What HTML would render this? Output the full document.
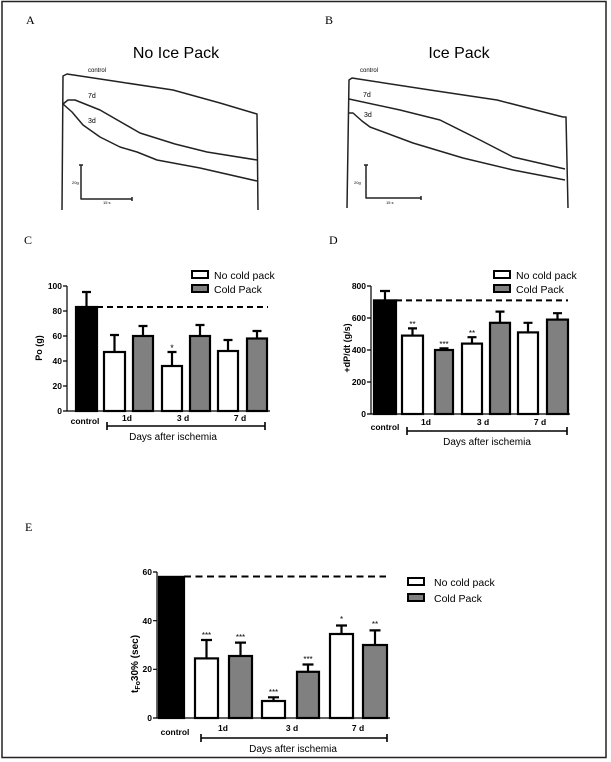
<!DOCTYPE html>
<html><head><meta charset="utf-8"><style>
html,body{margin:0;padding:0;background:#fff}
svg{display:block}
text{font-family:"Liberation Sans",sans-serif}
.ser{font-family:"Liberation Serif",serif;font-size:12px}
.tk{font-size:8.5px;font-weight:bold}
.lg{font-size:10.5px}
</style></head><body>
<svg width="611" height="762" viewBox="0 0 611 762" xmlns="http://www.w3.org/2000/svg">
<rect x="2" y="1.5" width="604" height="756" fill="#fff" stroke="#222" stroke-width="1.5"/>
<!-- A -->
<text class="ser" x="26" y="24">A</text>
<text x="176" y="58" font-size="16" text-anchor="middle">No Ice Pack</text>
<g fill="none" stroke="#222" stroke-width="1.5" stroke-linejoin="round">
<path d="M62 210 L63 76 L67 74 L120 82 L173 90 L220 103 L257 114 L258 210"/>
<path d="M63 104 L68 100 L75 100 L100 110 L140 133 L175 144 L207 152 L257 160"/>
<path d="M63 104 L72 112 L83 125 L100 137 L120 147 L137 152 L157 160 L200 168 L257 181"/>
<path d="M81 165 V199 H132 M79 165 H83 M132 197 V201"/>
</g>
<text x="88" y="72" font-size="6">control</text>
<text x="88" y="98" font-size="7">7d</text>
<text x="88" y="123" font-size="7">3d</text>
<text x="72" y="184" font-size="4">20g</text>
<text x="103" y="204" font-size="4">15 s</text>
<!-- B -->
<text class="ser" x="325" y="24">B</text>
<text x="459" y="58" font-size="16" text-anchor="middle">Ice Pack</text>
<g fill="none" stroke="#222" stroke-width="1.5" stroke-linejoin="round">
<path d="M347 208 L349 80 L352 78 L430 90 L497 100 L563 117 L566 117 L568 208"/>
<path d="M349 99 L400 110 L440 120 L480 140 L513 157 L565 169"/>
<path d="M349 113 L353 113 L362 121 L370 127 L413 143 L463 158 L513 170 L565 180"/>
<path d="M366 165 V198 H421 M364 165 H368 M421 196 V200"/>
</g>
<text x="360" y="72" font-size="6">control</text>
<text x="363" y="97" font-size="7">7d</text>
<text x="364" y="117" font-size="7">3d</text>
<text x="354" y="184" font-size="4">20g</text>
<text x="386" y="204" font-size="4">15 s</text>

<!-- C -->
<text class="ser" x="24" y="244">C</text>
<g stroke="#000" stroke-width="1.2" fill="none">
<path d="M67 286 V411 H270"/>
<path d="M63 286 H67 M63 311 H67 M63 336 H67 M63 361 H67 M63 386 H67 M63 411 H67"/>
</g>
<g class="tk" text-anchor="end"><text x="62" y="289">100</text><text x="62" y="314">80</text><text x="62" y="339">60</text><text x="62" y="364">40</text><text x="62" y="389">20</text><text x="62" y="414">0</text></g>
<text transform="translate(42,348) rotate(-90)" text-anchor="middle" font-size="9" font-weight="bold">Po (g)</text>
<g stroke="#000" stroke-width="2.2">
<path d="M86.5 307 V292 M82 292 H91 M114.5 352 V335 M110 335 H119 M143 336 V326 M138.5 326 H147.5 M172 366 V352 M167.5 352 H176.5 M200 336 V325 M195.5 325 H204.5 M228 351 V340 M223.5 340 H232.5 M257 338.5 V331 M252.5 331 H261.5"/>
<rect x="76" y="307" width="21" height="104" fill="#000"/>
<rect x="104" y="352" width="21" height="59" fill="#fff"/>
<rect x="133" y="336" width="20" height="75" fill="#808080"/>
<rect x="162" y="366" width="20" height="45" fill="#fff"/>
<rect x="190" y="336" width="20" height="75" fill="#808080"/>
<rect x="218" y="351" width="20" height="60" fill="#fff"/>
<rect x="247" y="338.5" width="20" height="72.5" fill="#808080"/>
</g>
<path d="M97 307 H268" stroke="#000" stroke-width="2" stroke-dasharray="6,4"/>
<text x="172" y="351" font-size="9" text-anchor="middle">*</text>
<rect x="192" y="271" width="16" height="7" fill="#fff" stroke="#000" stroke-width="2"/>
<rect x="192" y="285" width="16" height="7" fill="#808080" stroke="#000" stroke-width="2"/>
<text class="lg" x="214" y="279">No cold pack</text>
<text class="lg" x="214" y="293">Cold Pack</text>
<g class="tk" text-anchor="middle"><text x="85" y="424">control</text><text x="127" y="421">1d</text><text x="183" y="421">3 d</text><text x="240" y="421">7 d</text></g>
<path d="M107 426 H265 M107 422 V430 M265 422 V430" stroke="#000" stroke-width="1.6"/>
<text x="173" y="440" font-size="10" text-anchor="middle">Days after ischemia</text>

<!-- D -->
<text class="ser" x="329" y="244">D</text>
<g stroke="#000" stroke-width="1.2" fill="none">
<path d="M371 286 V414 H570"/>
<path d="M367 286 H371 M367 318 H371 M367 350 H371 M367 382 H371 M367 414 H371"/>
</g>
<g class="tk" text-anchor="end"><text x="366" y="289">800</text><text x="366" y="321">600</text><text x="366" y="353">400</text><text x="366" y="385">200</text><text x="366" y="417">0</text></g>
<text transform="translate(350,348) rotate(-90)" text-anchor="middle" font-size="9" font-weight="bold">+dP/dt (g/s)</text>
<g stroke="#000" stroke-width="2.2">
<path d="M385 300 V291 M380 291 H390 M412.5 335.6 V328.4 M408 328.4 H417 M444 350 V348.4 M439.5 348.4 H448.5 M472 343.6 V337.2 M467.5 337.2 H476.5 M500 322.8 V311.6 M495.5 311.6 H504.5 M528 332.4 V322.8 M523.5 322.8 H532.5 M557.5 319.6 V313.2 M553 313.2 H562"/>
<rect x="374" y="300.4" width="22" height="113.6" fill="#000"/>
<rect x="402" y="335.6" width="21" height="78.4" fill="#fff"/>
<rect x="435" y="350" width="18" height="64" fill="#808080"/>
<rect x="462" y="343.6" width="20" height="70.4" fill="#fff"/>
<rect x="490" y="322.8" width="20" height="91.2" fill="#808080"/>
<rect x="518" y="332.4" width="20" height="81.6" fill="#fff"/>
<rect x="547" y="319.6" width="21" height="94.4" fill="#808080"/>
</g>
<path d="M396 300.4 H568" stroke="#000" stroke-width="2" stroke-dasharray="6,4"/>
<g font-size="8" text-anchor="middle"><text x="412.5" y="327">**</text><text x="444" y="347">***</text><text x="472" y="336">**</text></g>
<rect x="494" y="271" width="16" height="7" fill="#fff" stroke="#000" stroke-width="2"/>
<rect x="494" y="285" width="16" height="7" fill="#808080" stroke="#000" stroke-width="2"/>
<text class="lg" x="516" y="279">No cold pack</text>
<text class="lg" x="516" y="293">Cold Pack</text>
<g class="tk" text-anchor="middle"><text x="385" y="430">control</text><text x="426" y="425">1d</text><text x="483" y="425">3 d</text><text x="540" y="425">7 d</text></g>
<path d="M407 431 H567 M407 427 V435 M567 427 V435" stroke="#000" stroke-width="1.6"/>
<text x="487" y="445" font-size="10" text-anchor="middle">Days after ischemia</text>

<!-- E -->
<text class="ser" x="25" y="531">E</text>
<g stroke="#000" stroke-width="1.2" fill="none">
<path d="M157 572 V718 H390"/>
<path d="M153 572 H157 M153 620.7 H157 M153 669.3 H157 M153 718 H157"/>
</g>
<g class="tk" text-anchor="end"><text x="152" y="575">60</text><text x="152" y="624">40</text><text x="152" y="672">20</text><text x="152" y="721">0</text></g>
<text transform="translate(138,664) rotate(-90)" text-anchor="middle" font-size="10" font-weight="bold">t<tspan font-size="7" dy="2">Fo</tspan><tspan dy="-2">30% (sec)</tspan></text>
<g stroke="#000" stroke-width="2.2">
<path d="M206.5 658.4 V640 M201 640 H212 M240.5 656 V642.6 M235 642.6 H246 M273.5 701 V697.3 M268 697.3 H279 M308 671.8 V664.5 M302.5 664.5 H313.5 M341.5 634 V625.5 M336 625.5 H347 M375 645 V630.4 M369.5 630.4 H380.5"/>
<rect x="159" y="576.9" width="25" height="141.1" fill="#000"/>
<rect x="195" y="658.4" width="23" height="59.6" fill="#fff"/>
<rect x="229" y="656" width="23" height="62" fill="#808080"/>
<rect x="262" y="701" width="23" height="17" fill="#fff"/>
<rect x="297" y="671.8" width="22" height="46.2" fill="#808080"/>
<rect x="330" y="634" width="23" height="84" fill="#fff"/>
<rect x="363" y="645" width="24" height="73" fill="#808080"/>
</g>
<path d="M184 576.5 H386" stroke="#000" stroke-width="2" stroke-dasharray="7,4.5"/>
<g font-size="8" text-anchor="middle"><text x="206.5" y="638">***</text><text x="240.5" y="640">***</text><text x="273.5" y="695">***</text><text x="308" y="662">***</text><text x="341.5" y="622">*</text><text x="375" y="627">**</text></g>
<rect x="408" y="578" width="16" height="7" fill="#fff" stroke="#000" stroke-width="2"/>
<rect x="408" y="594" width="16" height="7" fill="#808080" stroke="#000" stroke-width="2"/>
<text class="lg" x="434" y="586">No cold pack</text>
<text class="lg" x="434" y="602">Cold Pack</text>
<g class="tk" text-anchor="middle"><text x="175" y="735">control</text><text x="223" y="731">1d</text><text x="292" y="731">3 d</text><text x="358" y="731">7 d</text></g>
<path d="M201 738 H387 M201 734 V742 M387 734 V742" stroke="#000" stroke-width="1.6"/>
<text x="293" y="752" font-size="10" text-anchor="middle">Days after ischemia</text>
</svg>
</body></html>
